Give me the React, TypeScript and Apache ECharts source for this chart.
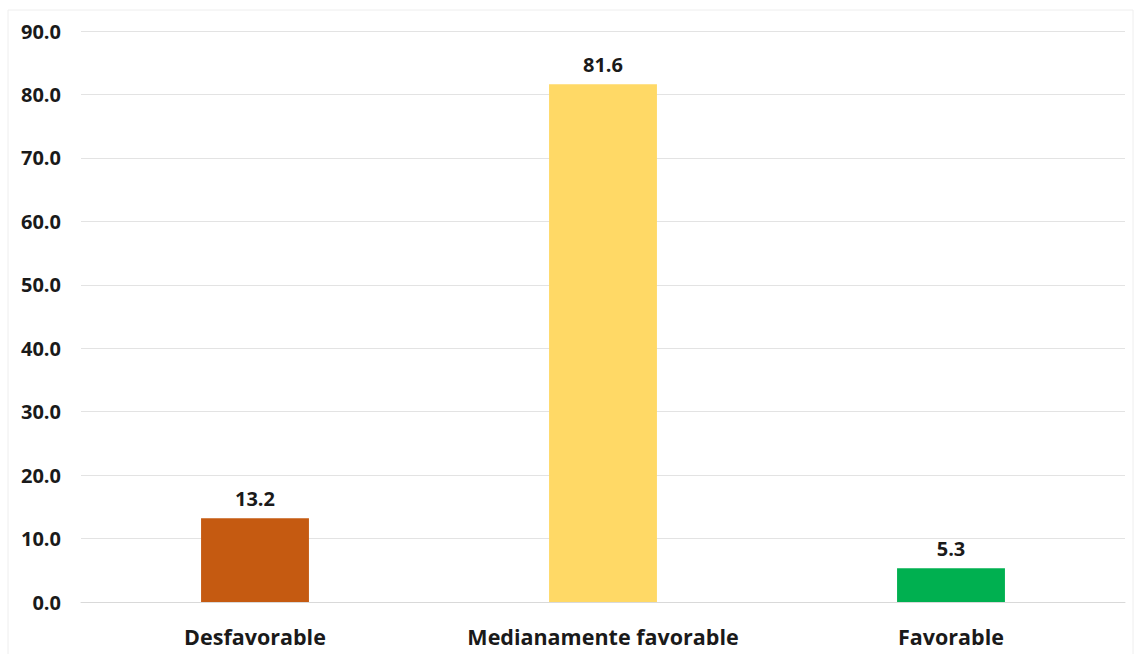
import React, { useEffect, useRef } from "react";
import * as echarts from "echarts";

const categories = ["Desfavorable", "Medianamente favorable", "Favorable"];
const values = [13.2, 81.6, 5.3];
const barColors = ["#C55A11", "#FFD966", "#00B050"];
const yTicks = { min: 0, max: 90, interval: 10 };

export default function App() {
  const ref = useRef<HTMLDivElement>(null);
  useEffect(() => {
    if (!ref.current) return;
    const chart = echarts.init(ref.current, null, { renderer: "svg" });
    chart.setOption({
      animation: false,
      backgroundColor: "#ffffff",
      grid: { left: 81, right: 13, top: 31, bottom: 52, containLabel: false },
      graphic: [
        {
          type: "rect",
          shape: { x: 8, y: 10, width: 1125, height: 650 },
          style: { fill: "none", stroke: "#eeeeee", lineWidth: 1 },
          silent: true,
        },
      ],
      xAxis: {
        type: "category",
        data: categories,
        axisLine: { show: true, lineStyle: { color: "#d9d9d9" } },
        axisTick: { show: false },
        axisLabel: {
          interval: 0,
          hideOverlap: false,
          color: "#1a1a1a",
          fontSize: 21.5,
          fontWeight: "bold",
          fontFamily: "Open Sans",
          margin: 23,
        },
      },
      yAxis: {
        type: "value",
        min: yTicks.min,
        max: yTicks.max,
        interval: yTicks.interval,
        axisLine: { show: false },
        axisTick: { show: false },
        splitLine: { lineStyle: { color: "#e3e3e3", width: 1 } },
        axisLabel: {
          color: "#1a1a1a",
          fontSize: 20,
          fontWeight: "bold",
          fontFamily: "Open Sans",
          margin: 20,
          formatter: (v: number) => v.toFixed(1),
        },
      },
      series: [
        {
          type: "bar",
          barWidth: "31%",
          data: values.map((v, i) => ({ value: v, itemStyle: { color: barColors[i] } })),
          label: {
            show: true,
            position: "top",
            distance: 10,
            color: "#1a1a1a",
            fontSize: 20,
            fontWeight: "bold",
            fontFamily: "Open Sans",
            formatter: (p: any) => Number(p.value).toFixed(1),
          },
        },
      ],
    });
    return () => chart.dispose();
  }, []);
  return (
    <div
      ref={ref}
      style={{ position: "absolute", left: 0, top: 0, width: 1138, height: 654 }}
    />
  );
}
